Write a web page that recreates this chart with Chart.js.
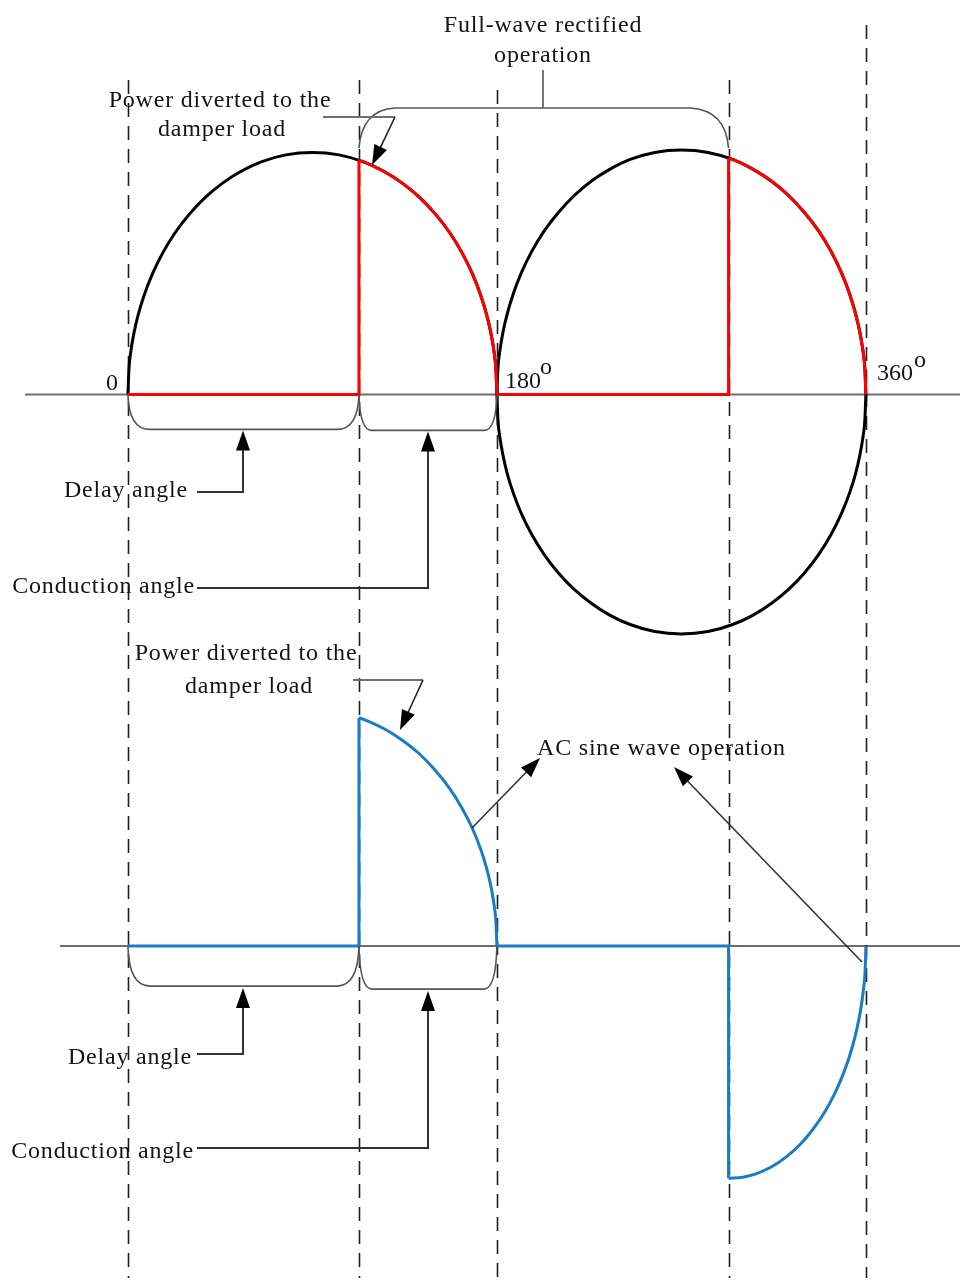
<!DOCTYPE html>
<html>
<head>
<meta charset="utf-8">
<script src="https://cdn.jsdelivr.net/npm/chart.js@4.4.1/dist/chart.umd.min.js"></script>
<style>
html,body{margin:0;padding:0;background:#fff}
#wrap{width:960px;height:1280px;position:relative}
</style>
</head>
<body>
<div id="wrap"><canvas id="wave-chart"></canvas></div>
<script>
/* Damper load: full-wave rectified vs AC sine wave operation */
const angleTickDeg=[0,180,360];
const angleTickLabels=['0','180','360'];
const firingDeg=[112.7,293];

// top panel: supply waveform (black), [angle deg, amplitude]
const supplyHalf1=[[0,0],[0.5,0.105],[1.5,0.182],[3,0.256],[5,0.329],[8,0.412],[12,0.499],[17,0.585],[23,0.668],[30,0.745],[38,0.816],[46,0.872],[55,0.921],[65,0.961],[77,0.99],[90,1],
  [103,0.99],[115,0.961],[125,0.921],[134,0.872],[142,0.816],[150,0.745],[157,0.668],[163,0.585],[168,0.499],[172,0.412],[175,0.329],[177,0.256],[178.5,0.182],[179.5,0.105],[180,0]];
const supplyHalf2Pos=[[180,0],[180.5,0.106],[181.5,0.184],[183,0.259],[185,0.332],[188,0.416],[192,0.504],[197,0.591],[203,0.675],[210,0.752],[218,0.824],[226,0.881],[235,0.93],[245,0.971],[257,1.0],[270,1.01],
  [283,1.0],[295,0.971],[305,0.93],[314,0.881],[322,0.824],[330,0.752],[337,0.675],[343,0.591],[348,0.504],[352,0.416],[355,0.332],[357,0.259],[358.5,0.184],[359.5,0.106],[360,0]];
const supplyHalf2Neg=[[180,0],[180.5,-0.104],[181.5,-0.18],[183,-0.253],[185,-0.326],[188,-0.408],[192,-0.494],[197,-0.579],[203,-0.661],[210,-0.738],[218,-0.808],[226,-0.863],[235,-0.912],[245,-0.951],[257,-0.98],[270,-0.99],
  [283,-0.98],[295,-0.951],[305,-0.912],[314,-0.863],[322,-0.808],[330,-0.738],[337,-0.661],[343,-0.579],[348,-0.494],[352,-0.408],[355,-0.326],[357,-0.253],[358.5,-0.18],[359.5,-0.104],[360,0]];

// top panel: power to damper, rectified (red)
const rectFlat1=[[0,0],[112.7,0],[112.7,0.968]];
const rectArc1=[[112.7,0.968],[115,0.961],[125,0.921],[134,0.872],[142,0.816],[150,0.745],[157,0.668],[163,0.585],[168,0.499],[172,0.412],[175,0.329],[177,0.256],[178.5,0.182],[179.5,0.105],[180,0]];
const rectFlat2=[[180,0],[293,0],[293,0.976]];
const rectArc2=[[293,0.976],[295,0.971],[305,0.93],[314,0.881],[322,0.824],[330,0.752],[337,0.675],[343,0.591],[348,0.504],[352,0.416],[355,0.332],[357,0.259],[358.5,0.184],[359.5,0.106],[360,0]];

// bottom panel: power to damper, AC (blue)
const acFlat1=[[0,0],[112.7,0],[112.7,0.944]];
const acArc1=[[112.7,0.944],[115,0.937],[125,0.898],[134,0.85],[142,0.796],[150,0.726],[157,0.651],[163,0.57],[168,0.487],[172,0.402],[175,0.321],[177,0.25],[178.5,0.177],[179.5,0.102],[180,0]];
const acFlat2=[[180,0],[293,0],[293,-0.96]];
const acArc2=[[293,-0.96],[300,-0.955],[307,-0.939],[314,-0.912],[321,-0.872],[328,-0.819],[334,-0.759],[340,-0.685],[345,-0.606],[349,-0.527],[352,-0.455],[354.5,-0.381],[356.5,-0.306],[358,-0.232],[359,-0.165],[359.6,-0.105],[360,0]];

(function(){
  const BLACK='#000',RED='#ff0000',BLUE='#1b7bc6',GREY='#6e6e6e',INK='#141414';
  const FONT='24px "Liberation Serif", "Times New Roman", serif';
  const pts=a=>a.map(p=>({x:p[0],y:p[1]}));
  function ds(data,color,axis,curved,order){
    return {data:pts(data),yAxisID:axis,borderColor:color,borderWidth:3,pointRadius:0,fill:false,
      tension:curved?0.4:0,cubicInterpolationMode:curved?'monotone':'default',order:order,borderJoinStyle:'miter',borderCapStyle:'butt'};
  }
  function line(c,x1,y1,x2,y2){c.beginPath();c.moveTo(x1,y1);c.lineTo(x2,y2);c.stroke();}
  function head(c,x1,y1,x2,y2){ // filled arrow head at (x2,y2)
    const a=Math.atan2(y2-y1,x2-x1),L=20,W=7;
    const bx=x2-L*Math.cos(a),by=y2-L*Math.sin(a);
    c.beginPath();c.moveTo(x2,y2);c.lineTo(bx+W*Math.sin(a),by-W*Math.cos(a));c.lineTo(bx-W*Math.sin(a),by+W*Math.cos(a));c.closePath();c.fill();
  }
  function arrow(c,x1,y1,x2,y2){
    const a=Math.atan2(y2-y1,x2-x1);
    line(c,x1,y1,x2-16*Math.cos(a),y2-16*Math.sin(a));head(c,x1,y1,x2,y2);
  }
  function elbow(c,x0,yLine,xUp,yTip){ // label leader: right, then up to brace
    c.beginPath();c.moveTo(x0,yLine);c.lineTo(xUp,yLine);c.lineTo(xUp,yTip+16);c.stroke();
    head(c,xUp,yLine,xUp,yTip);
  }
  function brace(c,x1,x2,y0,y1,r){
    c.beginPath();c.moveTo(x1,y0);c.quadraticCurveTo(x1+1,y1,x1+r,y1);c.lineTo(x2-r,y1);c.quadraticCurveTo(x2-1,y1,x2,y0);c.stroke();
  }
  function text(c,s,x,y,align){c.textAlign=align;c.fillText(s,x,y);}

  const notes={id:'notes',
    beforeDatasetsDraw(ch){
      const c=ch.ctx,x=ch.scales.x,yt=ch.scales.yTop.getPixelForValue(0),yb=ch.scales.yBot.getPixelForValue(0);
      c.save();
      c.strokeStyle=GREY;c.lineWidth=2;
      line(c,25,yt,960,yt);line(c,60,yb,960,yb);
      const guides=[angleTickDeg[0],firingDeg[0],angleTickDeg[1],firingDeg[1],angleTickDeg[2]];
      const tops=[80,80,90,80,25];
      c.setLineDash([14,9]);c.strokeStyle='#1e1e1e';c.lineWidth=1.6;
      guides.forEach((d,i)=>{const gx=Math.round(x.getPixelForValue(d))+0.5;line(c,gx,tops[i],gx,1278);});
      c.restore();
    },
    afterDatasetsDraw(ch){
      const c=ch.ctx,x=ch.scales.x,yt=ch.scales.yTop.getPixelForValue(0),yb=ch.scales.yBot.getPixelForValue(0);
      const px=angleTickDeg.map(d=>x.getPixelForValue(d));
      const fx=firingDeg.map(d=>x.getPixelForValue(d));
      c.save();
      // braces
      c.strokeStyle='#555';c.lineWidth=1.6;
      brace(c,px[0],fx[0],yt,yt+35,22);brace(c,fx[0],px[1],yt,yt+36,13);
      brace(c,px[0],fx[0],yb,yb+40,22);brace(c,fx[0],px[1],yb,yb+43,13);
      c.beginPath();c.moveTo(fx[0],148);c.quadraticCurveTo(fx[0]+3,110,395,108);c.lineTo(690,108);c.quadraticCurveTo(fx[1]-3,110,fx[1],148);c.stroke();
      line(c,543,70,543,108);
      // power diverted leaders
      c.strokeStyle=GREY;c.lineWidth=2;
      line(c,323,117,395,117);line(c,353,680,423,680);
      c.strokeStyle='#222';c.fillStyle='#000';c.lineWidth=1.6;
      arrow(c,395,117,372,165);arrow(c,423,680,400,730);
      // label leaders to the braces
      c.lineWidth=2;c.strokeStyle='#333';
      elbow(c,197,492,243,yt+36);elbow(c,197,588,428,yt+37);
      elbow(c,197,1054,243,yb+42);elbow(c,197,1148,428,yb+45);
      // AC sine wave operation pointers
      c.lineWidth=1.6;
      arrow(c,472,828,540,758);arrow(c,862,962,674,767);
      // text
      c.fillStyle=INK;c.font=FONT;c.textBaseline='alphabetic';
      c.letterSpacing='0.8px';
      text(c,'Full-wave rectified',543,32,'center');
      text(c,'operation',543,62,'center');
      text(c,'Power diverted to the',220,107,'center');
      text(c,'damper load',222,136,'center');
      text(c,'Delay angle',188,497,'right');
      text(c,'Conduction angle',195,593,'right');
      text(c,'Power diverted to the',246,660,'center');
      text(c,'damper load',249,693,'center');
      text(c,'AC sine wave operation',537,755,'left');
      text(c,'Delay angle',192,1064,'right');
      text(c,'Conduction angle',194,1158,'right');
      // angle tick labels with degree marks
      c.letterSpacing='0px';
      text(c,angleTickLabels[0],px[0]-10,yt-4,'right');
      text(c,angleTickLabels[1],px[1]+8,yt-6,'left');
      text(c,angleTickLabels[2],px[2]+11,yt-14,'left');
      text(c,'o',px[1]+43,yt-20,'left');
      text(c,'o',px[2]+48,yt-27,'left');
      c.restore();
    }
  };

  function init(){
    const el=document.getElementById('wave-chart');
    new Chart(el,{type:'line',
      data:{datasets:[
        ds(rectArc1,RED,'yTop',true,1),ds(rectArc2,RED,'yTop',true,1),
        ds(rectFlat1,RED,'yTop',false,1),ds(rectFlat2,RED,'yTop',false,1),
        ds(supplyHalf1,BLACK,'yTop',true,5),ds(supplyHalf2Pos,BLACK,'yTop',true,5),ds(supplyHalf2Neg,BLACK,'yTop',true,5),
        ds(acArc1,BLUE,'yBot',true,1),ds(acArc2,BLUE,'yBot',true,1),
        ds(acFlat1,BLUE,'yBot',false,1),ds(acFlat2,BLUE,'yBot',false,1)
      ]},
      options:{responsive:true,maintainAspectRatio:false,animation:false,
        layout:{padding:0},
        scales:{
          x:{type:'linear',min:-62.4,max:405.9,display:false},
          yTop:{type:'linear',min:-3.66,max:1.63,display:false},
          yBot:{type:'linear',min:-1.38,max:3.91,display:false}
        },
        plugins:{legend:{display:false},tooltip:{enabled:false}}},
      plugins:[notes]});
  }
  document.addEventListener('DOMContentLoaded',init);
})();
</script>
</body>
</html>
